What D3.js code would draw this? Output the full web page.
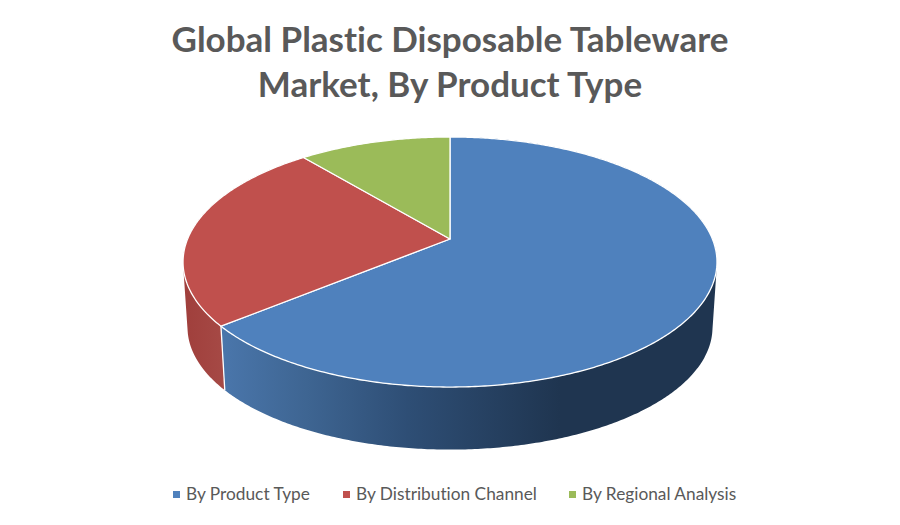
<!DOCTYPE html>
<html><head><meta charset="utf-8">
<script src="https://cdnjs.cloudflare.com/ajax/libs/d3/7.8.5/d3.min.js"></script>
<style>html,body{margin:0;background:#fff}svg{display:block}text{font-family:Lato,"Open Sans",sans-serif;font-variant-ligatures:none}</style>
</head><body><svg width="900" height="525"></svg>
<script>
const categories = ["By Product Type","By Distribution Channel","By Regional Analysis"];
const values = [64,25,11];
const colors = ["#4f81bd","#c0504d","#9bbb59"];
const titleLines = ["Global Plastic Disposable Tableware","Market, By Product Type"];

const svg = d3.select("svg");
const W = 900;
const arcs = d3.pie().sort(null)(values);
const top3d = {cx:450, cy:239, X:262.4, H:120.8, k:0.184};
const bot3d = {cx:450, cy:305, X:258,   H:118,   k:0.184};
const project = (p,a)=>{const u=Math.sin(a),v=Math.cos(a),w=1+p.k*v;return [p.cx+p.X*u/w,p.cy-p.H*v/w];};
const samples = (a0,a1)=>{const n=Math.max(2,Math.ceil((a1-a0)/0.01));return d3.range(n+1).map(i=>a0+(a1-a0)*i/n);};

const defs = svg.append("defs");
const blueG = defs.append("linearGradient").attr("id","wallBlue").attr("gradientUnits","userSpaceOnUse")
  .attr("x1",222).attr("x2",560).attr("y1",0).attr("y2",0);
[[0,"#4a76ab"],[0.25,"#3e6592"],[0.55,"#2e4e75"],[1,"#1f3550"]].forEach(s=>blueG.append("stop").attr("offset",s[0]).attr("stop-color",s[1]));
const redG = defs.append("linearGradient").attr("id","wallRed").attr("gradientUnits","userSpaceOnUse")
  .attr("x1",185).attr("x2",226).attr("y1",0).attr("y2",0);
[[0,"#a03f3c"],[1,"#a64a46"]].forEach(s=>redG.append("stop").attr("offset",s[0]).attr("stop-color",s[1]));
const wallFill = ["url(#wallBlue)","url(#wallRed)","#7d9a45"];

// walls: union of consistently wound quads between top and bottom rims
function wallPath(a0,a1){
  const as=samples(a0,a1);let d="";
  for(let i=0;i<as.length-1;i++){
    let q=[project(top3d,as[i]),project(top3d,as[i+1]),project(bot3d,as[i+1]),project(bot3d,as[i])];
    if(d3.polygonArea(q)<0) q.reverse();
    d+="M"+q.map(p=>p.join(",")).join("L")+"Z";
  }
  return d;
}
const wallLayer=svg.append("g");
wallLayer.selectAll("path").data(arcs.slice(0,2)).join("path")
  .attr("d",d=>wallPath(d.startAngle,d.endAngle))
  .attr("fill",(d,i)=>wallFill[i]);
// edge between walls
const split=arcs[0].endAngle;
wallLayer.append("line")
  .attr("x1",project(top3d,split)[0]).attr("y1",project(top3d,split)[1])
  .attr("x2",project(bot3d,split)[0]).attr("y2",project(bot3d,split)[1])
  .attr("stroke","#fff").attr("stroke-width",1.3);

// top face
const line=d3.line();
svg.append("g").selectAll("path").data(arcs).join("path")
  .attr("d",d=>line([[top3d.cx,top3d.cy],...samples(d.startAngle,d.endAngle).map(a=>project(top3d,a))])+"Z")
  .attr("fill",(d,i)=>colors[i])
  .attr("stroke","#fff").attr("stroke-width",1.3).attr("stroke-linejoin","round");

// title
svg.append("g").selectAll("text").data(titleLines).join("text")
  .attr("x",W/2).attr("y",(d,i)=>52+i*45)
  .attr("text-anchor","middle").attr("font-size",35).attr("font-weight",700).attr("fill","#595959")
  .text(d=>d);

// legend
const legendX = d3.scaleOrdinal().domain(categories).range([173,343,569]);
const lg=svg.append("g").selectAll("g").data(categories).join("g")
  .attr("transform",d=>`translate(${legendX(d)},0)`);
lg.append("rect").attr("y",491).attr("width",7).attr("height",7).attr("fill",(d,i)=>colors[i]);
lg.append("text").attr("x",13).attr("y",500).attr("font-size",17.3).attr("fill","#595959").text(d=>d);
</script></body></html>
